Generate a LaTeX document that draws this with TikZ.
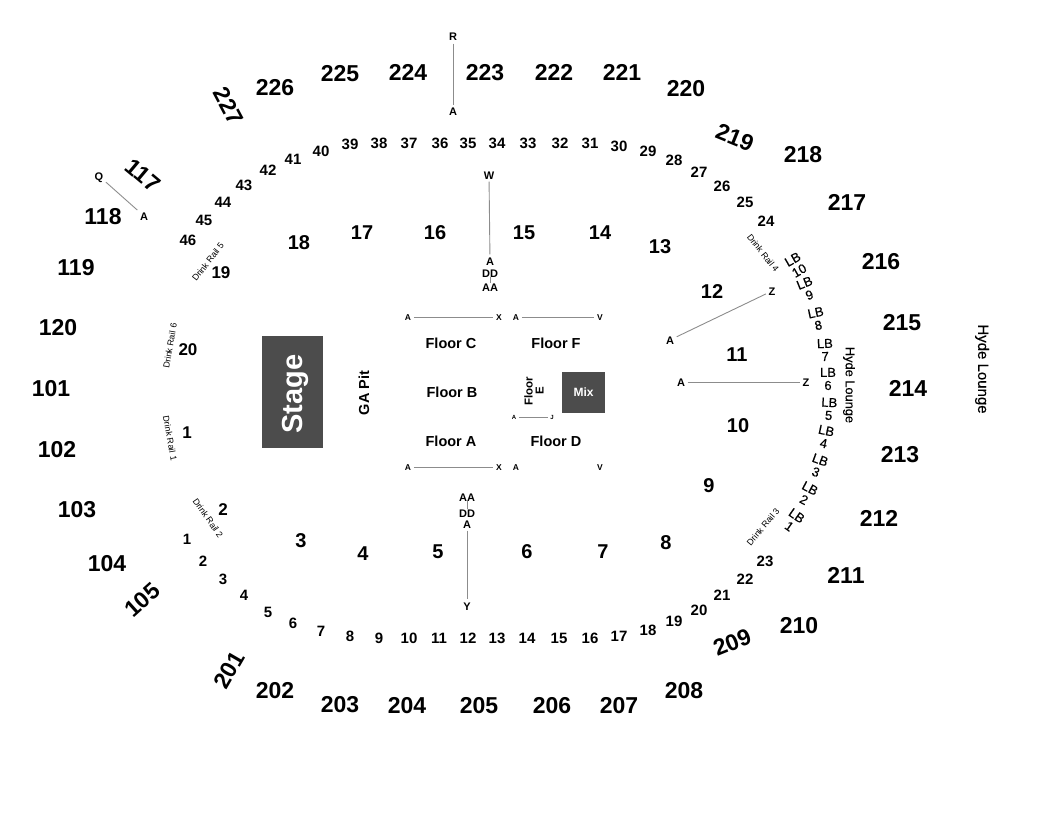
\documentclass[tikz,border=0pt]{standalone}
\usepackage{fontspec}
\setmainfont{Liberation Sans}
\newfontfamily\heavyfont[FakeBold=0.35]{Liberation Sans}
\begin{document}
\begin{tikzpicture}[x=1pt,y=-1pt,
level/.style={font=\bfseries\fontsize{23}{23}\selectfont,inner sep=0pt,text height=16.5pt,text depth=0pt},
sect/.style={font=\bfseries\fontsize{20}{20}\selectfont,inner sep=0pt,text height=14.5pt,text depth=0pt},
lowsect/.style={font=\bfseries\fontsize{17}{17}\selectfont,inner sep=0pt,text height=12.2pt,text depth=0pt},
seat/.style={font=\bfseries\fontsize{15}{15}\selectfont,inner sep=0pt,text height=10.8pt,text depth=0pt},
row/.style={font=\bfseries\fontsize{11}{11}\selectfont,inner sep=2.5pt,text height=8pt,text depth=0pt},
aisleend/.style={font=\bfseries\fontsize{8.5}{8.5}\selectfont,inner sep=2.5pt,text height=6pt,text depth=0pt},
tiny/.style={font=\bfseries\fontsize{6}{6}\selectfont,inner sep=2.5pt,text height=4.3pt,text depth=0pt},
floor/.style={font=\bfseries\fontsize{14.5}{14.5}\selectfont,inner sep=0pt},
rail/.style={font=\fontsize{8.8}{8.8}\selectfont,inner sep=0pt},
lb/.style={font=\heavyfont\fontsize{13}{13}\selectfont,align=center,inner sep=0pt},
lounge/.style={font=\heavyfont\fontsize{15}{15}\selectfont,inner sep=0pt,rotate=-90},
block/.style={fill=black!70,text=white,inner sep=0pt,font=\bfseries},
aisle/.style={draw=black!45,line width=0.9pt}]
\useasboundingbox (0,0) rectangle (1050,840);
\draw (229,106) node[level,rotate=-62] (l227) {227};
\draw (275,87) node[level] (l226) {226};
\draw (340,73) node[level] (l225) {225};
\draw (408,72) node[level] (l224) {224};
\draw (485,72) node[level] (l223) {223};
\draw (554,72) node[level] (l222) {222};
\draw (622,72) node[level] (l221) {221};
\draw (686,88) node[level] (l220) {220};
\draw (735,137) node[level,rotate=-22] (l219) {219};
\draw (803,154) node[level] (l218) {218};
\draw (847,202) node[level] (l217) {217};
\draw (881,261) node[level] (l216) {216};
\draw (902,322) node[level] (l215) {215};
\draw (908,388) node[level] (l214) {214};
\draw (900,454) node[level] (l213) {213};
\draw (879,518) node[level] (l212) {212};
\draw (846,575) node[level] (l211) {211};
\draw (799,625) node[level] (l210) {210};
\draw (732,642) node[level,rotate=22] (l209) {209};
\draw (684,690) node[level] (l208) {208};
\draw (619,705) node[level] (l207) {207};
\draw (552,705) node[level] (l206) {206};
\draw (479,705) node[level] (l205) {205};
\draw (407,705) node[level] (l204) {204};
\draw (340,704) node[level] (l203) {203};
\draw (275,690) node[level] (l202) {202};
\draw (229,670) node[level,rotate=60] (l201) {201};
\draw (142,600) node[level,rotate=42] (l105) {105};
\draw (107,563) node[level] (l104) {104};
\draw (77,509) node[level] (l103) {103};
\draw (57,449) node[level] (l102) {102};
\draw (51,388) node[level] (l101) {101};
\draw (58,327) node[level] (l120) {120};
\draw (76,267) node[level] (l119) {119};
\draw (103,216) node[level] (l118) {118};
\draw (143,175) node[level,rotate=-40] (l117) {117};
\draw (299,242) node[sect] (c18) {18};
\draw (362,232) node[sect] (c17) {17};
\draw (435,232) node[sect] (c16) {16};
\draw (524,232) node[sect] (c15) {15};
\draw (600,232) node[sect] (c14) {14};
\draw (660,246) node[sect] (c13) {13};
\draw (712,291) node[sect] (c12) {12};
\draw (737,354) node[sect] (c11) {11};
\draw (738,425) node[sect] (c10) {10};
\draw (709,485) node[sect] (c9) {9};
\draw (666,542) node[sect] (c8) {8};
\draw (603,551) node[sect] (c7) {7};
\draw (527,551) node[sect] (c6) {6};
\draw (438,551) node[sect] (c5) {5};
\draw (363,553) node[sect] (c4) {4};
\draw (301,540) node[sect] (c3) {3};
\draw (223,509) node[lowsect] (c2) {2};
\draw (187,432) node[lowsect] (c1) {1};
\draw (188,349) node[lowsect] (c20) {20};
\draw (221,272) node[lowsect] (c19) {19};
\draw (188,240) node[seat] (s46) {46};
\draw (204,220) node[seat] (s45) {45};
\draw (223,202) node[seat] (s44) {44};
\draw (244,185) node[seat] (s43) {43};
\draw (268,170) node[seat] (s42) {42};
\draw (293,159) node[seat] (s41) {41};
\draw (321,151) node[seat] (s40) {40};
\draw (350,144) node[seat] (s39) {39};
\draw (379,143) node[seat] (s38) {38};
\draw (409,143) node[seat] (s37) {37};
\draw (440,143) node[seat] (s36) {36};
\draw (468,143) node[seat] (s35) {35};
\draw (497,143) node[seat] (s34) {34};
\draw (528,143) node[seat] (s33) {33};
\draw (560,143) node[seat] (s32) {32};
\draw (590,143) node[seat] (s31) {31};
\draw (619,146) node[seat] (s30) {30};
\draw (648,151) node[seat] (s29) {29};
\draw (674,160) node[seat] (s28) {28};
\draw (699,172) node[seat] (s27) {27};
\draw (722,186) node[seat] (s26) {26};
\draw (745,202) node[seat] (s25) {25};
\draw (766,221) node[seat] (s24) {24};
\draw (765,561) node[seat] (s23) {23};
\draw (745,579) node[seat] (s22) {22};
\draw (722,595) node[seat] (s21) {21};
\draw (699,610) node[seat] (s20) {20};
\draw (674,621) node[seat] (s19) {19};
\draw (648,630) node[seat] (s18) {18};
\draw (619,636) node[seat] (s17) {17};
\draw (590,638) node[seat] (s16) {16};
\draw (559,638) node[seat] (s15) {15};
\draw (527,638) node[seat] (s14) {14};
\draw (497,638) node[seat] (s13) {13};
\draw (468,638) node[seat] (s12) {12};
\draw (439,638) node[seat] (s11) {11};
\draw (409,638) node[seat] (s10) {10};
\draw (379,638) node[seat] (s9) {9};
\draw (350,636) node[seat] (s8) {8};
\draw (321,631) node[seat] (s7) {7};
\draw (293,623) node[seat] (s6) {6};
\draw (268,612) node[seat] (s5) {5};
\draw (244,595) node[seat] (s4) {4};
\draw (223,579) node[seat] (s3) {3};
\draw (203,561) node[seat] (s2) {2};
\draw (187,539) node[seat] (s1) {1};
\draw (453,37) node[row] (topR) {R};
\draw (453,112) node[row] (topA) {A};
\draw (99,176) node[row] (sideQ) {Q};
\draw (144,216) node[row] (sideA) {A};
\draw (489,175) node[row] (upW) {W};
\draw (490,261) node[row] (upA) {A};
\draw (490,273) node[row,inner sep=0pt] (upDD) {DD};
\draw (490,287) node[row,inner sep=0pt] (upAA) {AA};
\draw (467,497) node[row,inner sep=0pt] (lowAA) {AA};
\draw (467,513) node[row,inner sep=0pt] (lowDD) {DD};
\draw (467,524) node[row] (lowA) {A};
\draw (467,606) node[row] (lowY) {Y};
\draw (670,340) node[row] (upperA) {A};
\draw (772,291) node[row] (upperZ) {Z};
\draw (681,382) node[row] (midA) {A};
\draw (806,382) node[row] (midZ) {Z};
\draw (408,317) node[aisleend] (cA) {A};
\draw (499,317) node[aisleend] (cX) {X};
\draw (516,317) node[aisleend] (fA) {A};
\draw (600,317) node[aisleend] (fV) {V};
\draw (408,467) node[aisleend] (aA) {A};
\draw (499,467) node[aisleend] (aX) {X};
\draw (516,467) node[aisleend] (dA) {A};
\draw (600,467) node[aisleend] (dV) {V};
\draw (514,417) node[tiny] (eA) {A};
\draw (552,417) node[tiny] (eJ) {J};
\draw[aisle] (topR)--(topA);
\draw[aisle] (sideQ)--(sideA);
\draw[aisle] (upW)--(upA);
\draw[aisle] (upDD)--(upAA);
\draw[aisle] (lowAA)--(lowDD);
\draw[aisle] (lowA)--(lowY);
\draw[aisle] (upperA)--(upperZ);
\draw[aisle] (midA)--(midZ);
\draw[aisle] (cA)--(cX);
\draw[aisle] (fA)--(fV);
\draw[aisle] (aA)--(aX);
\draw[aisle] (eA)--(eJ);
\draw (451,343) node[floor] (floorC) {Floor C};
\draw (452,392) node[floor] (floorB) {Floor B};
\draw (451,441) node[floor] (floorA) {Floor A};
\draw (556,343) node[floor] (floorF) {Floor F};
\draw (556,441) node[floor] (floorD) {Floor D};
\draw (534,391) node[floor,font=\bfseries\fontsize{11.5}{11}\selectfont,rotate=90,align=center] (floorE) {Floor\\E};
\draw (583.5,392.5) node[block,minimum width=43pt,minimum height=41pt,font=\bfseries\fontsize{12}{12}\selectfont] (mix) {Mix};
\draw (292,392) node[block,minimum width=61pt,minimum height=112pt] (stageBox) {};
\draw (295,394) node[rotate=90,text=white,inner sep=0pt,font=\bfseries\fontsize{29}{29}\selectfont] (stage) {Stage};
\draw (364,393) node[floor,rotate=90] (gaPit) {GA Pit};
\draw (208,262) node[rail,rotate=52] (rail5) {Drink Rail 5};
\draw (170,346) node[rail,rotate=80] (rail6) {Drink Rail 6};
\draw (170,438) node[rail,rotate=-80] (rail1) {Drink Rail 1};
\draw (208,518) node[rail,rotate=-55] (rail2) {Drink Rail 2};
\draw (763,253) node[rail,rotate=-52] (rail4) {Drink Rail 4};
\draw (763,527) node[rail,rotate=50] (rail3) {Drink Rail 3};
\draw (796,265) node[lb,rotate=30] (lb10) {LB\\10};
\draw (807,289) node[lb,rotate=22] (lb9) {LB\\9};
\draw (817,319) node[lb,rotate=12] (lb8) {LB\\8};
\draw (825,350) node[lb,rotate=1] (lb7) {LB\\7};
\draw (828,379) node[lb] (lb6) {LB\\6};
\draw (829,409) node[lb,rotate=-3] (lb5) {LB\\5};
\draw (825,437) node[lb,rotate=-12] (lb4) {LB\\4};
\draw (818,466) node[lb,rotate=-20] (lb3) {LB\\3};
\draw (807,494) node[lb,rotate=-28] (lb2) {LB\\2};
\draw (793,521) node[lb,rotate=-35] (lb1) {LB\\1};
\draw (849,385) node[lounge,font=\heavyfont\fontsize{12.8}{12.8}\selectfont] (loungeIn) {Hyde Lounge};
\draw (982,369) node[lounge] (loungeOut) {Hyde Lounge};
\end{tikzpicture}
\end{document}
